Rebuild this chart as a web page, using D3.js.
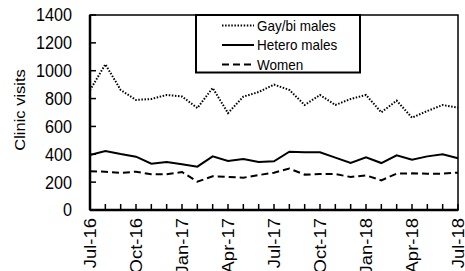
<!DOCTYPE html>
<html>
<head>
<meta charset="utf-8">
<script src="https://cdn.jsdelivr.net/npm/d3@7"></script>
<style>
  body { margin: 0; background: #fff; }
  text { font-family: "Liberation Sans", Arial, sans-serif; fill: #000; }
</style>
</head>
<body>
<div id="chart"></div>
<script>
const months = [
    "Jul-16", "Aug-16", "Sep-16", "Oct-16", "Nov-16", "Dec-16", "Jan-17", "Feb-17", "Mar-17",
    "Apr-17", "May-17", "Jun-17", "Jul-17", "Aug-17", "Sep-17", "Oct-17", "Nov-17", "Dec-17",
    "Jan-18", "Feb-18", "Mar-18", "Apr-18", "May-18", "Jun-18", "Jul-18"
];
const tickLabels = ["Jul-16", "Oct-16", "Jan-17", "Apr-17", "Jul-17", "Oct-17", "Jan-18", "Apr-18", "Jul-18"];
const yTicks = [0, 200, 400, 600, 800, 1000, 1200, 1400];

const gayBi = [860, 1046, 862, 790, 797, 826, 815, 732, 876, 696, 814, 847, 900, 862, 754, 826, 754, 797, 826, 701, 785, 663, 711, 754, 735];
const hetero = [395, 424, 402, 383, 332, 345, 328, 311, 385, 352, 366, 345, 350, 419, 414, 414, 376, 337, 378, 337, 393, 361, 385, 400, 371];
const women = [278, 275, 266, 275, 256, 256, 273, 203, 242, 237, 232, 251, 268, 297, 254, 258, 258, 237, 249, 213, 261, 263, 261, 261, 268];

const series = [
    { name: "Gay/bi males", values: gayBi, dash: "1.5,1.6" },
    { name: "Hetero males", values: hetero, dash: null },
    { name: "Women", values: women, dash: "7,4" }
];

const width = 465, height = 271;
const mLeft = 90, mRight = 458, mTop = 15, mBottom = 210;

const svg = d3.select("#chart").append("svg")
    .attr("width", width)
    .attr("height", height);

const x = d3.scalePoint().domain(months).range([mLeft, mRight]);
const y = d3.scaleLinear().domain([0, 1400]).range([mBottom, mTop]);

// frame
svg.append("rect")
    .attr("x", mLeft).attr("y", mTop)
    .attr("width", mRight - mLeft).attr("height", mBottom - mTop)
    .attr("fill", "none").attr("stroke", "#000").attr("stroke-width", 1.5);

// ticks (inward)
svg.append("g").selectAll("line").data(yTicks).join("line")
    .attr("x1", mLeft).attr("x2", mLeft + 6)
    .attr("y1", d => y(d)).attr("y2", d => y(d))
    .attr("stroke", "#000").attr("stroke-width", 1.5);

svg.append("g").selectAll("line").data(months).join("line")
    .attr("x1", d => x(d)).attr("x2", d => x(d))
    .attr("y1", mBottom).attr("y2", mBottom - 6)
    .attr("stroke", "#000").attr("stroke-width", 1.5);

// thicker axis lines
svg.append("line").attr("x1", mLeft).attr("x2", mLeft).attr("y1", mTop).attr("y2", mBottom)
    .attr("stroke", "#000").attr("stroke-width", 2.5);
svg.append("line").attr("x1", mLeft).attr("x2", mRight).attr("y1", mBottom).attr("y2", mBottom)
    .attr("stroke", "#000").attr("stroke-width", 2.5);

// y tick labels
svg.append("g").selectAll("text").data(yTicks).join("text")
    .attr("transform", d => `translate(72,${y(d)}) scale(0.9,1)`)
    .attr("text-anchor", "end")
    .attr("dy", "0.36em")
    .style("font-size", "18px")
    .text(d => d);

// x tick labels
svg.append("g").selectAll("text").data(tickLabels).join("text")
    .attr("transform", d => `translate(${x(d)},218) scale(0.9,1) rotate(-90)`)
    .attr("text-anchor", "end")
    .attr("dy", "0.36em")
    .style("font-size", "18.5px")
    .text(d => d);

// y axis title
svg.append("text")
    .attr("transform", "translate(20,110) scale(0.9,1) rotate(-90)")
    .attr("text-anchor", "middle")
    .attr("dy", "0.36em")
    .style("font-size", "16.5px")
    .text("Clinic visits");

// lines
const line = d3.line()
    .x((d, i) => x(months[i]))
    .y(d => y(d));

svg.append("g").selectAll("path").data(series).join("path")
    .attr("d", d => line(d.values))
    .attr("fill", "none")
    .attr("stroke", "#000")
    .attr("stroke-width", 2)
    .attr("stroke-dasharray", d => d.dash);

// legend
const legend = svg.append("g");
legend.append("rect")
    .attr("x", 196).attr("y", 15)
    .attr("width", 164).attr("height", 57.5)
    .attr("fill", "#fff").attr("stroke", "#000").attr("stroke-width", 2);

const rows = legend.selectAll("g.row").data(series).join("g")
    .classed("row", true)
    .attr("transform", (d, i) => `translate(0,${25.5 + i * 19.5})`);

rows.append("line")
    .attr("x1", 222).attr("x2", 254)
    .attr("y1", 0).attr("y2", 0)
    .attr("stroke", "#000").attr("stroke-width", 2)
    .attr("stroke-dasharray", d => d.dash);

rows.append("text")
    .attr("transform", "translate(257,0) scale(0.9,1)")
    .attr("dy", "0.36em")
    .style("font-size", "15px")
    .text(d => d.name);
</script>
</body>
</html>
